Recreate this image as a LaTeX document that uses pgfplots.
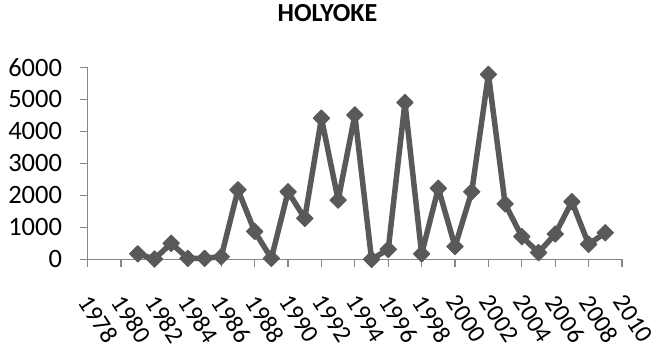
\documentclass[border=0pt]{standalone}
\usepackage{pgfplots}
\pgfplotsset{compat=1.18}
\usepackage{fontspec}
\setmainfont{Carlito}
\definecolor{serie}{RGB}{89,89,89}
\definecolor{axisgray}{RGB}{134,134,134}
\begin{document}
\begin{tikzpicture}
\useasboundingbox (-87.7bp,-91.7bp) rectangle (567.3bp,259.3bp);
\begin{axis}[
  at={(0,0)}, anchor=south west,
  scale only axis,
  width=534.3bp, height=192bp,
  xmin=1978, xmax=2010,
  ymin=0, ymax=6000,
  xtick={1978,1980,...,2010},
  ytick={0,1000,...,6000},
  axis x line*=bottom,
  axis y line*=left,
  axis line style={axisgray, line width=1.2bp, -},
  tick style={axisgray, line width=1.2bp},
  tick align=outside,
  major tick length=7.5bp,
  /pgf/number format/assume math mode=true,
  /pgf/number format/set thousands separator={},
  scaled y ticks=false,
  xticklabel style={font=\fontsize{25bp}{30bp}\selectfont, anchor=north west, inner sep=0pt, xshift=4bp, yshift=-26bp, rotate=-57},
  yticklabel style={font=\fontsize{26.5bp}{30bp}\selectfont, anchor=east, inner sep=0pt, xshift=-18bp},
  title={HOLYOKE},
  title style={font=\bfseries\fontsize{26bp}{30bp}\selectfont, at={(axis description cs:0.4488,1.208)}, anchor=base, inner sep=0pt},
  clip=false,
]
\addplot[color=serie, line width=5.5bp, line join=round, mark=square*, mark size=5.8bp,
  mark options={rotate=45, fill=serie, draw=serie, line width=1bp}]
coordinates {
(1981,170) (1982,10) (1983,500) (1984,30) (1985,30) (1986,80)
(1987,2170) (1988,870) (1989,30) (1990,2110) (1991,1280) (1992,4410)
(1993,1850) (1994,4510) (1995,0) (1996,310) (1997,4900) (1998,170)
(1999,2220) (2000,400) (2001,2110) (2002,5780) (2003,1730) (2004,710)
(2005,210) (2006,790) (2007,1800) (2008,470) (2009,830)
};
\end{axis}
\end{tikzpicture}
\end{document}
